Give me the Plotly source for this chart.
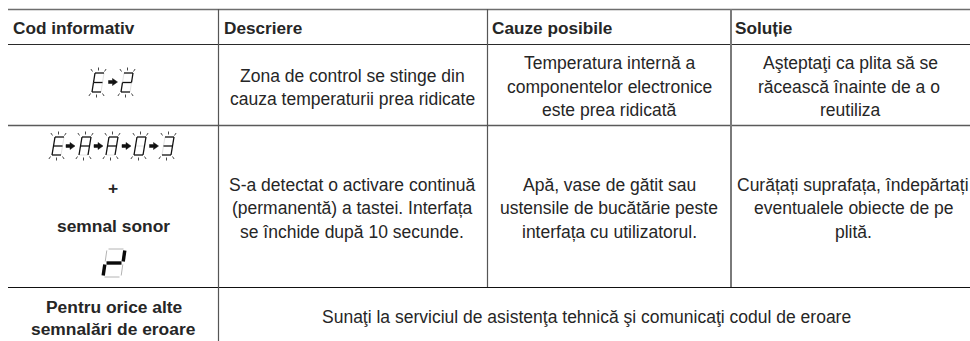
import plotly.graph_objects as go

FONT = "Liberation Sans"
INK = "#262626"
W, H = 970, 341

# table rules: (x0, y0, x1, y1, colour, width)
rules = [
    (8, 9.5, 970, 9.5, "#6e6e6e", 1.3),
    (8, 44.5, 970, 44.5, "#2a2a2a", 1.2),
    (8, 125.5, 970, 125.5, "#5a5a5a", 1.3),
    (8, 287.5, 970, 287.5, "#111111", 1.2),
    (218.5, 9, 218.5, 341, "#555555", 1.2),
    (487.5, 9, 487.5, 287, "#555555", 1.2),
    (731, 9, 731, 287, "#7a7a7a", 2),
]

header_labels = ["Cod informativ", "Descriere", "Cauze posibile", "Soluție"]
header_x = [11, 222, 490, 733]
header_y = 28

body_lines = [
    ("Zona de control se stinge din", 352, 76),
    ("cauza temperaturii prea ridicate", 352, 99),
    ("Temperatura internă a", 609, 63),
    ("componentelor electronice", 609, 87),
    ("este prea ridicată", 609, 110),
    ("Aşteptaţi ca plita să se", 850, 63),
    ("răcească înainte de a o", 849, 87),
    ("reutiliza", 850, 110),
    ("S-a detectat o activare continuă", 352, 185),
    ("(permanentă) a tastei. Interfața", 352, 208),
    ("se închide după 10 secunde.", 352, 232),
    ("Apă, vase de gătit sau", 609, 185),
    ("ustensile de bucătărie peste", 609, 208),
    ("interfața cu utilizatorul.", 609, 232),
    ("Curățați suprafața, îndepărtați", 853, 185),
    ("eventualele obiecte de pe", 853, 208),
    ("plită.", 853, 232),
    ("Sunaţi la serviciul de asistenţa tehnică şi comunicaţi codul de eroare", 586, 317),
]

bold_lines = [
    ("+", 113, 188),
    ("semnal sonor", 113, 226),
    ("Pentru orice alte", 114, 307),
    ("semnalări de eroare", 113, 329),
]

# seven segment digits: (segments on, left, top, width, height)
digits = [
    ("adefg", 92, 73, 9, 19),
    ("abdeg", 121, 73, 9, 19),
    ("adefg", 52, 137, 9, 18),
    ("abcefg", 79, 137, 9, 18),
    ("abcefg", 106, 137, 9, 18),
    ("abcdef", 134, 137, 9, 18),
    ("abcdg", 162, 137, 9, 18),
]
arrows = [(113, 82), (70.5, 146), (98.5, 146), (126.5, 146), (154, 146)]
big_digit = ("bge", 103, 249, 18, 28)


def seg_points(left, top, w, h, skew, gap=0.0):
    midy = top + h / 2
    bot = top + h
    tl = (left + skew, top)
    tr = (left + w + skew, top)
    ml = (left + skew / 2, midy)
    mr = (left + w + skew / 2, midy)
    bl = (left, bot)
    br = (left + w, bot)
    raw = {
        "a": (tl, tr), "b": (tr, mr), "c": (mr, br), "d": (bl, br),
        "e": (ml, bl), "f": (tl, ml), "g": (ml, mr),
    }
    out = {}
    for k, (p, q) in raw.items():
        dx, dy = q[0] - p[0], q[1] - p[1]
        n = (dx * dx + dy * dy) ** 0.5
        ux, uy = dx / n * gap, dy / n * gap
        out[k] = ((p[0] + ux, p[1] + uy), (q[0] - ux, q[1] - uy))
    return out


def path(segs):
    xs, ys = [], []
    for p, q in segs:
        xs += [p[0], q[0], None]
        ys += [p[1], q[1], None]
    return xs, ys


fig = go.Figure()

ghost, on = [], []
rays = []
for code, left, top, w, h in digits:
    segs = seg_points(left, top, w, h, 3)
    for k, s in segs.items():
        (on if k in code else ghost).append(s)
    cx = left + w / 2
    for dx, slope in [(-6, -1.6), (0, 0), (6, 1.6)]:
        rays.append(((cx + 2 + dx, top - 1.5 - (0 if dx else 1)), (cx + 2 + dx + slope, top - 4 - (0 if dx else 1.5))))
        rays.append(((cx + 0 + dx, top + h + 1.5 + (0 if dx else 1)), (cx + dx + slope, top + h + 4 + (0 if dx else 1.5))))

xs, ys = path(ghost)
fig.add_trace(go.Scatter(x=xs, y=ys, mode="lines", line=dict(color="#e2e2e2", width=1)))
xs, ys = path(on)
fig.add_trace(go.Scatter(x=xs, y=ys, mode="lines", line=dict(color="#111111", width=1.3)))
xs, ys = path(rays)
fig.add_trace(go.Scatter(x=xs, y=ys, mode="lines", line=dict(color="#333333", width=0.9)))

code, left, top, w, h = big_digit
segs = seg_points(left, top, w, h, 4, gap=1.5)
xs, ys = path(segs[k] for k in segs if k not in code)
fig.add_trace(go.Scatter(x=xs, y=ys, mode="lines", line=dict(color="#b4b4b4", width=1)))
xs, ys = path([segs[k] for k in code])
fig.add_trace(go.Scatter(x=xs, y=ys, mode="lines", line=dict(color="#0a0a0a", width=3.4)))

for ax, ay in arrows:
    fig.add_trace(go.Scatter(
        x=[ax - 4.5, ax - 0.5, ax - 0.5, ax + 4.5, ax - 0.5, ax - 0.5, ax - 4.5, ax - 4.5],
        y=[ay - 1.5, ay - 1.5, ay - 3.5, ay, ay + 3.5, ay + 1.5, ay + 1.5, ay - 1.5],
        mode="lines", fill="toself", fillcolor="#111111", line=dict(color="#111111", width=0.5),
    ))

for x0, y0, x1, y1, color, width in rules:
    fig.add_trace(go.Scatter(x=[x0, x1], y=[y0, y1], mode="lines", line=dict(color=color, width=width)))

notes = []
for label, x in zip(header_labels, header_x):
    notes.append(dict(x=x, y=header_y, text=f"<b>{label}</b>", xanchor="left", yanchor="middle", showarrow=False,
                      font=dict(family=FONT, size=17.2, color=INK)))
for text, x, y in body_lines:
    notes.append(dict(x=x, y=y, text=text, xanchor="center", yanchor="middle", showarrow=False,
                      font=dict(family=FONT, size=17.5, color=INK)))
for text, x, y in bold_lines:
    notes.append(dict(x=x, y=y, text=f"<b>{text}</b>", xanchor="center", yanchor="middle", showarrow=False,
                      font=dict(family=FONT, size=17.4, color=INK)))
for n in notes:
    n["xref"] = "x"
    n["yref"] = "y"

fig.update_layout(
    width=W, height=H, margin=dict(l=0, r=0, t=0, b=0),
    paper_bgcolor="white", plot_bgcolor="white", showlegend=False, hovermode=False,
    xaxis=dict(range=[0, W], visible=False, fixedrange=True),
    yaxis=dict(range=[H, 0], visible=False, fixedrange=True),
    annotations=notes,
)
fig.write_html(
    "out.html",
    config=dict(displayModeBar=False),
    post_script="document.body.style.margin='0';document.documentElement.style.overflow='hidden';",
)
